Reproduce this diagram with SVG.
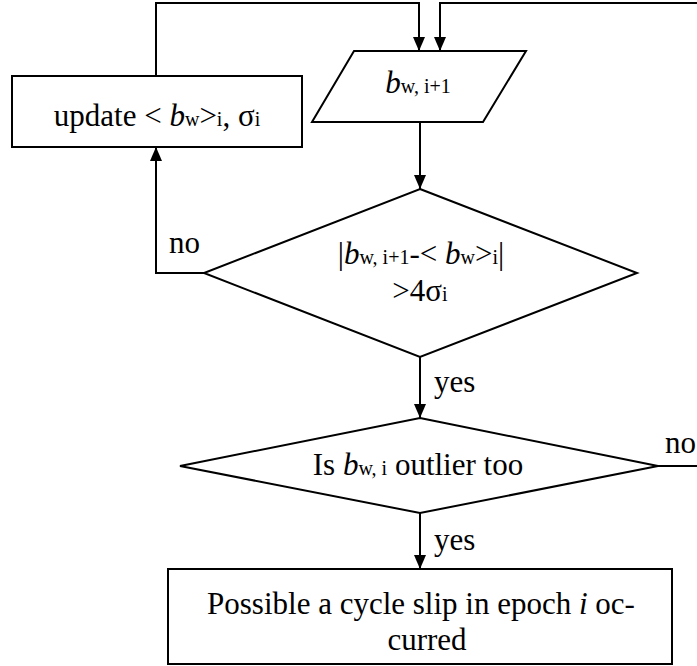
<svg xmlns="http://www.w3.org/2000/svg" width="697" height="666" viewBox="0 0 697 666" font-family="Liberation Serif, Times New Roman, DejaVu Serif, serif" font-size="30">
  <style>
    .shape { fill: #ffffff; stroke: #000000; stroke-width: 2; }
    .line { fill: none; stroke: #000000; stroke-width: 2; }
    text { font-family: 'Liberation Serif', 'Times New Roman', 'DejaVu Serif', serif; font-size: 31px; fill: #000000; }
    .c { text-anchor: middle; }
    .s { font-size: 20px; }
    .it { font-style: italic; }
  </style>
  <defs>
    <marker id="arrow" viewBox="0 0 14 12" refX="14" refY="6" markerWidth="14" markerHeight="12" markerUnits="userSpaceOnUse" orient="auto">
      <path d="M0,0 L14,6 L0,12 z" fill="#000000"/>
    </marker>
  </defs>

  <!-- connectors -->
  <g id="connectors">
    <!-- update loop back into the input -->
    <polyline class="line" points="156,76 156,3 419,3 419,51" marker-end="url(#arrow)"/>
    <!-- "no" branch of the second test returns from the right -->
    <polyline class="line" points="697,3 440,3 440,51" marker-end="url(#arrow)"/>
    <line class="line" x1="420" y1="122" x2="420" y2="189" marker-end="url(#arrow)"/>
    <polyline class="line" points="204,273 156,273 156,147" marker-end="url(#arrow)"/>
    <line class="line" x1="420" y1="357" x2="420" y2="418" marker-end="url(#arrow)"/>
    <line class="line" x1="658" y1="466" x2="697" y2="466"/>
    <line class="line" x1="420" y1="513" x2="420" y2="569" marker-end="url(#arrow)"/>
    <text x="169" y="253">no</text>
    <text x="434" y="392">yes</text>
    <text x="665" y="453">no</text>
    <text x="434" y="550">yes</text>
  </g>

  <!-- update step -->
  <g id="update">
    <rect class="shape" x="12" y="76" width="290" height="71"/>
    <text class="c" x="157" y="126">update &lt; <tspan class="it">b</tspan><tspan class="s">w</tspan>&gt;<tspan class="s">i</tspan>, σ<tspan class="s">i</tspan></text>
  </g>

  <!-- input value -->
  <g id="input">
    <polygon class="shape" points="354,51 526,51 483,122 312,122"/>
    <text class="c" x="418" y="93"><tspan class="it">b</tspan><tspan class="s">w, i+1</tspan></text>
  </g>

  <!-- first test -->
  <g id="test1">
    <polygon class="shape" points="420,189 637,273 420,357 204,273"/>
    <text class="c" x="421" y="264">|<tspan class="it">b</tspan><tspan class="s">w, i+1</tspan>-&lt; <tspan class="it">b</tspan><tspan class="s">w</tspan>&gt;<tspan class="s">i</tspan>|</text>
    <text class="c" x="420" y="301">&gt;4σ<tspan class="s">i</tspan></text>
  </g>

  <!-- second test -->
  <g id="test2">
    <polygon class="shape" points="420,418 658,466 420,513 180,466"/>
    <text class="c" x="418" y="475">Is <tspan class="it">b</tspan><tspan class="s">w, i</tspan> outlier too</text>
  </g>

  <!-- result -->
  <g id="result">
    <rect class="shape" x="168" y="569" width="504" height="95"/>
    <text class="c" x="421" y="614">Possible a cycle slip in epoch <tspan class="it">i</tspan> oc-</text>
    <text class="c" x="427" y="650">curred</text>
  </g>
</svg>
